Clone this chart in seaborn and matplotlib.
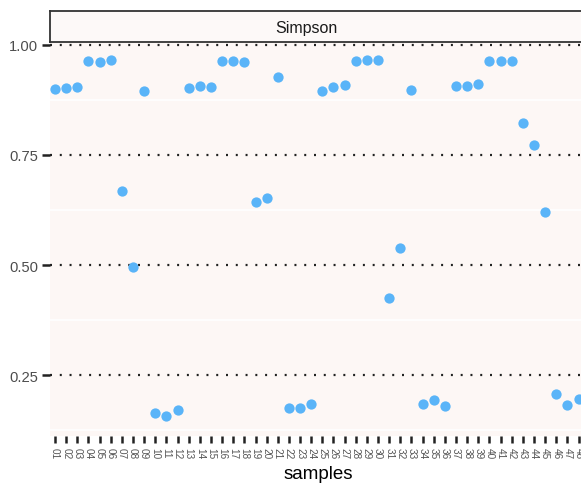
import matplotlib
matplotlib.use("Agg")
import matplotlib.pyplot as plt
import seaborn as sns
import pandas as pd
import numpy as np

samples = [f"{i:02d}" for i in range(1, 49)]
simpson = [0.900, 0.902, 0.905, 0.964, 0.961, 0.966, 0.668, 0.495, 0.895, 0.164,
           0.157, 0.170, 0.902, 0.907, 0.905, 0.964, 0.964, 0.961, 0.643, 0.652,
           0.927, 0.175, 0.175, 0.184, 0.895, 0.905, 0.909, 0.964, 0.966, 0.966,
           0.425, 0.539, 0.898, 0.184, 0.193, 0.180, 0.907, 0.907, 0.911, 0.964,
           0.964, 0.964, 0.823, 0.773, 0.620, 0.207, 0.182, 0.195]
yticks = [0.25, 0.50, 0.75, 1.00]
ytick_labels = ["0.25", "0.50", "0.75", "1.00"]
strip_title = "Simpson"
x_label = "samples"

df = pd.DataFrame({"samples": samples, "value": simpson})

sns.set_style("white")
plt.rcParams["font.family"] = ["Liberation Sans", "DejaVu Sans"]

W, H = 581, 485
fig = plt.figure(figsize=(W / 100, H / 100), dpi=100)
panel_bg = "#FDF7F5"

# main panel
left_px, right_px, top_px, bot_px = 50, 586, 43, 437
ax = fig.add_axes([left_px / W, (H - bot_px) / H, (right_px - left_px) / W, (bot_px - top_px) / H])
ax.set_facecolor(panel_bg)

sns.stripplot(data=df, x="samples", y="value", jitter=False, color="#5AB4F8",
              size=7.4, linewidth=0, ax=ax, zorder=3)

ax.set_xlim(-0.45, len(samples) - 0.33)
ax.set_ylim(0.1114, 1.0068)

# minor white grid
for m in [0.125, 0.375, 0.625, 0.875]:
    ax.axhline(m, color="white", lw=1.2, zorder=1)
# major dotted grid
for t in yticks:
    ax.axhline(t, color="#222222", lw=1.6, linestyle=(0, (0.9, 3.5)), zorder=2)

for s in ax.spines.values():
    s.set_visible(False)

ax.set_yticks(yticks)
ax.set_yticklabels(ytick_labels)
ax.tick_params(axis="y", length=5.5, width=1.8, color="#222222", labelsize=10.6,
               labelcolor="#4D4D4D", pad=3, left=True)
ax.set_xticks(range(len(samples)))
ax.set_xticklabels(samples, rotation=270)
ax.tick_params(axis="x", length=5, width=1.8, color="#222222", labelsize=7.2,
               labelcolor="#555555", pad=3, bottom=True)
ax.set_xlabel(x_label, fontsize=13.5, color="black", labelpad=5)
ax.set_ylabel("")

# facet strip
sax = fig.add_axes([(left_px) / W, (H - 43) / H, (right_px - left_px + 10) / W, 31 / H])
sax.set_facecolor("#FDF9F8")
sax.set_xticks([])
sax.set_yticks([])
for s in sax.spines.values():
    s.set_color("#333333")
    s.set_linewidth(1.3)
fig.text(306 / W, (H - 28) / H, strip_title, ha="center", va="center", fontsize=11.5, color="#1A1A1A")

fig.savefig("out.png", dpi=100)
